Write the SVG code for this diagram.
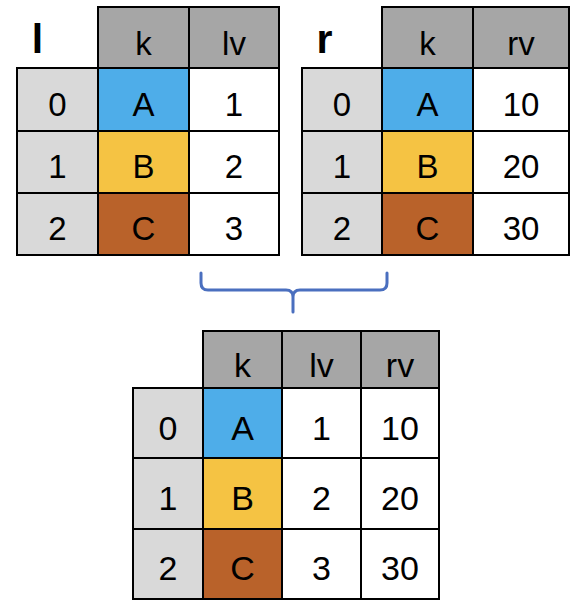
<svg xmlns="http://www.w3.org/2000/svg" width="570" height="614" viewBox="0 0 570 614">
<style>
.c{stroke:#000;stroke-width:2}
.h{fill:#a6a6a6}.i{fill:#d9d9d9}.w{fill:#fff}
.a{fill:#4eade9}.b{fill:#f5c343}.cc{fill:#b9622a}
text{font-family:"Liberation Sans",Arial,sans-serif;font-size:33px;fill:#000;text-anchor:middle}
.lab{font-size:41px;font-weight:bold}
.bt text{font-size:34px}
</style>
<rect width="570" height="614" fill="#fff"/>
<g id="table-l">
<text class="lab" x="37.5" y="52.5">l</text>
<rect class="c h" x="98" y="7" width="91" height="61"/><text x="143.5" y="54.5">k</text>
<rect class="c h" x="189" y="7" width="90" height="61"/><text x="234" y="54.5">lv</text>
<rect class="c i" x="17" y="68" width="81" height="63"/><text x="57.5" y="115.5">0</text>
<rect class="c a" x="98" y="68" width="91" height="63"/><text x="143.5" y="115.5">A</text>
<rect class="c w" x="189" y="68" width="90" height="63"/><text x="234" y="115.5">1</text>
<rect class="c i" x="17" y="131" width="81" height="62"/><text x="57.5" y="177.5">1</text>
<rect class="c b" x="98" y="131" width="91" height="62"/><text x="143.5" y="177.5">B</text>
<rect class="c w" x="189" y="131" width="90" height="62"/><text x="234" y="177.5">2</text>
<rect class="c i" x="17" y="193" width="81" height="62"/><text x="57.5" y="240">2</text>
<rect class="c cc" x="98" y="193" width="91" height="62"/><text x="143.5" y="240">C</text>
<rect class="c w" x="189" y="193" width="90" height="62"/><text x="234" y="240">3</text>
</g>
<g id="table-r">
<text class="lab" x="324.5" y="52.5">r</text>
<rect class="c h" x="382" y="7" width="91" height="61"/><text x="427.5" y="54.5">k</text>
<rect class="c h" x="473" y="7" width="96" height="61"/><text x="521" y="54.5">rv</text>
<rect class="c i" x="302" y="68" width="80" height="63"/><text x="342" y="115.5">0</text>
<rect class="c a" x="382" y="68" width="91" height="63"/><text x="427.5" y="115.5">A</text>
<rect class="c w" x="473" y="68" width="96" height="63"/><text x="521" y="115.5">10</text>
<rect class="c i" x="302" y="131" width="80" height="62"/><text x="342" y="177.5">1</text>
<rect class="c b" x="382" y="131" width="91" height="62"/><text x="427.5" y="177.5">B</text>
<rect class="c w" x="473" y="131" width="96" height="62"/><text x="521" y="177.5">20</text>
<rect class="c i" x="302" y="193" width="80" height="62"/><text x="342" y="240">2</text>
<rect class="c cc" x="382" y="193" width="91" height="62"/><text x="427.5" y="240">C</text>
<rect class="c w" x="473" y="193" width="96" height="62"/><text x="521" y="240">30</text>
</g>
<g id="connectors">
<path d="M201,273 V283 Q201,290 208,290 H286 Q293,290 293,297 V312 M293,297 Q293,290 300,290 H380 Q387,290 387,283 V273" fill="none" stroke="#4a6fbf" stroke-width="3" stroke-linecap="round"/>
</g>
<g id="table-result" class="bt">
<rect class="c h" x="203" y="331" width="79" height="57"/><text x="242.5" y="377">k</text>
<rect class="c h" x="282" y="331" width="79" height="57"/><text x="321.5" y="377">lv</text>
<rect class="c h" x="361" y="331" width="78" height="57"/><text x="400" y="377">rv</text>
<rect class="c i" x="133" y="388" width="70" height="70"/><text x="168" y="439.5">0</text>
<rect class="c a" x="203" y="388" width="79" height="70"/><text x="242.5" y="439.5">A</text>
<rect class="c w" x="282" y="388" width="79" height="70"/><text x="321.5" y="439.5">1</text>
<rect class="c w" x="361" y="388" width="78" height="70"/><text x="400" y="439.5">10</text>
<rect class="c i" x="133" y="458" width="70" height="71"/><text x="168" y="510">1</text>
<rect class="c b" x="203" y="458" width="79" height="71"/><text x="242.5" y="510">B</text>
<rect class="c w" x="282" y="458" width="79" height="71"/><text x="321.5" y="510">2</text>
<rect class="c w" x="361" y="458" width="78" height="71"/><text x="400" y="510">20</text>
<rect class="c i" x="133" y="529" width="70" height="70"/><text x="168" y="579.5">2</text>
<rect class="c cc" x="203" y="529" width="79" height="70"/><text x="242.5" y="579.5">C</text>
<rect class="c w" x="282" y="529" width="79" height="70"/><text x="321.5" y="579.5">3</text>
<rect class="c w" x="361" y="529" width="78" height="70"/><text x="400" y="579.5">30</text>
</g>
</svg>
